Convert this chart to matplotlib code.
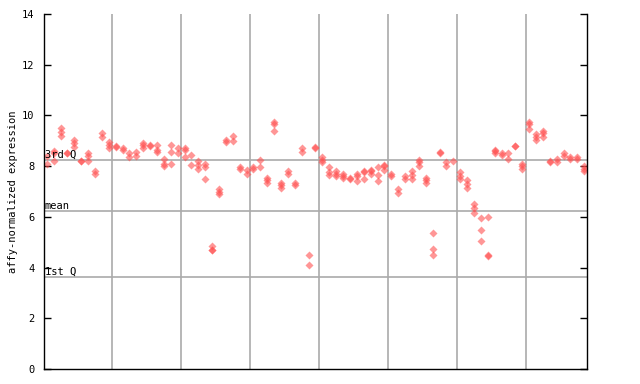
import matplotlib
matplotlib.use("Agg")
import matplotlib.pyplot as plt

# --- Replicate expression values per sample ---
sample_values = [
    [8.1, 8.4], [8.2, 8.5, 8.6], [9.2, 9.35, 9.5], [8.5, 8.5], [8.75, 8.9, 9.05],
    [8.2, 8.2], [8.2, 8.4, 8.5], [7.7, 7.8], [9.15, 9.3], [8.7, 8.85, 8.95],
    [8.75, 8.8], [8.65, 8.7], [8.35, 8.5], [8.4, 8.55], [8.7, 8.85, 8.9],
    [8.8, 8.85], [8.55, 8.65, 8.85], [8.0, 8.1, 8.3], [8.1, 8.55, 8.85], [8.5, 8.7],
    [8.35, 8.65, 8.7], [8.05, 8.45], [7.9, 8.05, 8.2], [7.5, 7.95, 8.1], [4.7, 4.7, 4.85],
    [6.9, 7.0, 7.1], [8.95, 9.05], [9.0, 9.2], [7.9, 7.95], [7.7, 7.85],
    [7.9, 7.95], [7.95, 8.25], [7.35, 7.45, 7.55], [9.4, 9.65, 9.75], [7.15, 7.25, 7.35],
    [7.7, 7.8], [7.25, 7.35], [8.55, 8.7], [4.1, 4.5], [8.7, 8.75],
    [8.15, 8.25, 8.35], [7.65, 7.75, 7.95], [7.6, 7.7, 7.8], [7.55, 7.6, 7.7], [7.5, 7.55],
    [7.4, 7.6, 7.7], [7.5, 7.75, 7.8], [7.7, 7.8, 7.85], [7.4, 7.65, 7.95], [7.85, 8.0, 8.05],
    [7.6, 7.7], [6.95, 7.1], [7.5, 7.6], [7.5, 7.65, 7.8], [8.0, 8.15, 8.25],
    [7.35, 7.45, 7.55], [4.5, 4.75, 5.35], [8.5, 8.55], [8.0, 8.15], [8.2],
    [7.5, 7.6, 7.75], [7.15, 7.3, 7.45], [6.15, 6.35, 6.5], [5.05, 5.5, 5.95], [4.45, 4.5, 6.0],
    [8.5, 8.6, 8.65], [8.45, 8.5], [8.3, 8.5], [8.8, 8.8], [7.9, 8.0, 8.1],
    [9.45, 9.65, 9.75], [9.05, 9.15, 9.25], [9.15, 9.3, 9.4], [8.15, 8.2], [8.15, 8.3],
    [8.4, 8.5], [8.3, 8.35], [8.3, 8.35], [7.8, 7.9, 8.0],
]

# --- Summary lines ---
quartile_values = [3.63, 6.23, 8.23]
quartile_labels = ["1st Q", "mean", "3rd Q"]

y_ticks = [0, 2, 4, 6, 8, 10, 12, 14]
group_size = 10

mono = "DejaVu Sans Mono"

fig = plt.figure(figsize=(6.4, 3.84), dpi=100)
ax = fig.add_axes([44 / 640, 15 / 384, (587 - 44) / 640, (369 - 14) / 384])

n = len(sample_values)
xs, ys = [], []
for i, vals in enumerate(sample_values):
    for v in vals:
        xs.append(i)
        ys.append(v)

# group separators and quartile lines
for k in range(1, n // group_size + 1):
    ax.axvline(k * group_size - 0.5, color="#aaaaaa", lw=1.2, zorder=1)
for q, lab in zip(quartile_values, quartile_labels):
    ax.axhline(q, color="#aaaaaa", lw=1.2, zorder=1)
    ax.text(-0.3, q + 0.02, lab, family=mono, fontsize=7.5, ha="left", va="bottom", zorder=3)

ax.plot(xs, ys, "D", ms=4.5, mfc="#ff5050", mec="none", alpha=0.6, zorder=2)

ax.set_xlim(-0.4, n - 0.6)
ax.set_ylim(0, 14)
ax.set_yticks(y_ticks)
ax.set_yticklabels([str(t) for t in y_ticks], family=mono, fontsize=7.5)
ax.set_xticks([])
ax.tick_params(axis="y", direction="in", length=5, width=1, pad=7, right=True)
ax.spines["top"].set_visible(False)
for s in ["left", "right", "bottom"]:
    ax.spines[s].set_linewidth(1)
ax.set_ylabel("affy-normalized expression", family=mono, fontsize=7.5, labelpad=3)

fig.savefig("out.png", dpi=100)
